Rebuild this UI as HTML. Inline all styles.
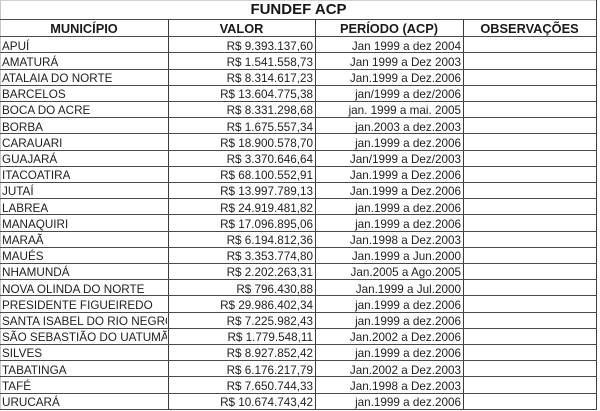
<!DOCTYPE html>
<html>
<head>
<meta charset="utf-8">
<style>
html,body{margin:0;padding:0;background:#fff;}
body{width:600px;height:411px;position:relative;overflow:hidden;font-family:"Liberation Sans",Arial,sans-serif;}
.h{position:absolute;left:0;width:597px;height:1px;background:#4a4a4a;}
.v{position:absolute;width:1px;background:#3a3a3a;}
.t{position:absolute;white-space:nowrap;line-height:16px;font-size:11.7px;color:#1e1e1e;}
.c1{left:2px;width:165px;overflow:hidden;}
.c2{left:170px;width:143px;text-align:right;}
.c3{left:317px;width:144px;text-align:right;}
.hd{position:absolute;top:20.9px;line-height:16px;font-size:12.8px;font-weight:bold;color:#1a1a1a;text-align:center;white-space:nowrap;}
</style>
</head>
<body>
<!-- outer faint borders -->
<div style="position:absolute;left:0;top:0;width:597px;height:1px;background:#d0d0d0;"></div>
<div style="position:absolute;left:0;top:0;width:1px;height:410px;background:#c8c8c8;"></div>
<div class="v" style="left:596px;top:0;height:410px;"></div>

<div style="position:absolute;left:0;top:0.8px;width:597px;text-align:center;font-size:15px;line-height:18px;font-weight:bold;color:#151515;">FUNDEF ACP</div>

<div class="h" style="top:18.5px;"></div>
<div class="hd" style="left:0;width:168px;">MUNICÍPIO</div>
<div class="hd" style="left:168px;width:147px;">VALOR</div>
<div class="hd" style="left:315px;width:148px;">PERÍODO (ACP)</div>
<div class="hd" style="left:463px;width:133px;">OBSERVAÇÕES</div>

<!-- vertical column lines -->
<div class="v" style="left:168px;top:19px;height:391px;"></div>
<div class="v" style="left:315px;top:19px;height:391px;"></div>
<div class="v" style="left:463px;top:19px;height:391px;"></div>

<!-- horizontal row lines: y = 36.7 + 16.2k -->
<div class="h" style="top:36.2px"></div>
<div class="h" style="top:52.4px"></div>
<div class="h" style="top:68.6px"></div>
<div class="h" style="top:84.8px"></div>
<div class="h" style="top:101px"></div>
<div class="h" style="top:117.2px"></div>
<div class="h" style="top:133.4px"></div>
<div class="h" style="top:149.6px"></div>
<div class="h" style="top:165.8px"></div>
<div class="h" style="top:182px"></div>
<div class="h" style="top:198.2px"></div>
<div class="h" style="top:214.4px"></div>
<div class="h" style="top:230.6px"></div>
<div class="h" style="top:246.8px"></div>
<div class="h" style="top:263px"></div>
<div class="h" style="top:279.2px"></div>
<div class="h" style="top:295.4px"></div>
<div class="h" style="top:311.6px"></div>
<div class="h" style="top:327.8px"></div>
<div class="h" style="top:344px"></div>
<div class="h" style="top:360.2px"></div>
<div class="h" style="top:376.4px"></div>
<div class="h" style="top:392.6px"></div>
<div class="h" style="top:408.8px"></div>

<!-- rows: top = y_k + 1.8 -->
<div class="t c1" style="top:38.5px">APUÍ</div><div class="t c2" style="top:38.5px">R$ 9.393.137,60</div><div class="t c3" style="top:38.5px">Jan 1999 a dez 2004</div>
<div class="t c1" style="top:54.7px">AMATURÁ</div><div class="t c2" style="top:54.7px">R$ 1.541.558,73</div><div class="t c3" style="top:54.7px">Jan 1999 a Dez 2003</div>
<div class="t c1" style="top:70.9px">ATALAIA DO NORTE</div><div class="t c2" style="top:70.9px">R$ 8.314.617,23</div><div class="t c3" style="top:70.9px">Jan.1999 a Dez.2006</div>
<div class="t c1" style="top:87.1px">BARCELOS</div><div class="t c2" style="top:87.1px">R$ 13.604.775,38</div><div class="t c3" style="top:87.1px">jan/1999 a dez/2006</div>
<div class="t c1" style="top:103.3px">BOCA DO ACRE</div><div class="t c2" style="top:103.3px">R$ 8.331.298,68</div><div class="t c3" style="top:103.3px">jan. 1999 a mai. 2005</div>
<div class="t c1" style="top:119.5px">BORBA</div><div class="t c2" style="top:119.5px">R$ 1.675.557,34</div><div class="t c3" style="top:119.5px">jan.2003 a dez.2003</div>
<div class="t c1" style="top:135.7px">CARAUARI</div><div class="t c2" style="top:135.7px">R$ 18.900.578,70</div><div class="t c3" style="top:135.7px">jan.1999 a dez.2006</div>
<div class="t c1" style="top:151.9px">GUAJARÁ</div><div class="t c2" style="top:151.9px">R$ 3.370.646,64</div><div class="t c3" style="top:151.9px">Jan/1999 a Dez/2003</div>
<div class="t c1" style="top:168.1px">ITACOATIRA</div><div class="t c2" style="top:168.1px">R$ 68.100.552,91</div><div class="t c3" style="top:168.1px">Jan.1999 a Dez.2006</div>
<div class="t c1" style="top:184.3px">JUTAÍ</div><div class="t c2" style="top:184.3px">R$ 13.997.789,13</div><div class="t c3" style="top:184.3px">Jan.1999 a Dez.2006</div>
<div class="t c1" style="top:200.5px">LABREA</div><div class="t c2" style="top:200.5px">R$ 24.919.481,82</div><div class="t c3" style="top:200.5px">jan.1999 a dez.2006</div>
<div class="t c1" style="top:216.7px">MANAQUIRI</div><div class="t c2" style="top:216.7px">R$ 17.096.895,06</div><div class="t c3" style="top:216.7px">jan.1999 a dez.2006</div>
<div class="t c1" style="top:232.9px">MARAÃ</div><div class="t c2" style="top:232.9px">R$ 6.194.812,36</div><div class="t c3" style="top:232.9px">Jan.1998 a Dez.2003</div>
<div class="t c1" style="top:249.1px">MAUÉS</div><div class="t c2" style="top:249.1px">R$ 3.353.774,80</div><div class="t c3" style="top:249.1px">Jan.1999 a Jun.2000</div>
<div class="t c1" style="top:265.3px">NHAMUNDÁ</div><div class="t c2" style="top:265.3px">R$ 2.202.263,31</div><div class="t c3" style="top:265.3px">Jan.2005 a Ago.2005</div>
<div class="t c1" style="top:281.5px">NOVA OLINDA DO NORTE</div><div class="t c2" style="top:281.5px">R$ 796.430,88</div><div class="t c3" style="top:281.5px">Jan.1999 a Jul.2000</div>
<div class="t c1" style="top:297.7px">PRESIDENTE FIGUEIREDO</div><div class="t c2" style="top:297.7px">R$ 29.986.402,34</div><div class="t c3" style="top:297.7px">jan.1999 a dez.2006</div>
<div class="t c1" style="top:313.9px">SANTA ISABEL DO RIO NEGRO</div><div class="t c2" style="top:313.9px">R$ 7.225.982,43</div><div class="t c3" style="top:313.9px">jan.1999 a dez.2006</div>
<div class="t c1" style="top:330.1px">SÃO SEBASTIÃO DO UATUMÃ</div><div class="t c2" style="top:330.1px">R$ 1.779.548,11</div><div class="t c3" style="top:330.1px">Jan.2002 a Dez.2006</div>
<div class="t c1" style="top:346.3px">SILVES</div><div class="t c2" style="top:346.3px">R$ 8.927.852,42</div><div class="t c3" style="top:346.3px">jan.1999 a dez.2006</div>
<div class="t c1" style="top:362.5px">TABATINGA</div><div class="t c2" style="top:362.5px">R$ 6.176.217,79</div><div class="t c3" style="top:362.5px">Jan.2002 a Dez.2003</div>
<div class="t c1" style="top:378.7px">TAFÉ</div><div class="t c2" style="top:378.7px">R$ 7.650.744,33</div><div class="t c3" style="top:378.7px">Jan.1998 a Dez.2003</div>
<div class="t c1" style="top:394.9px">URUCARÁ</div><div class="t c2" style="top:394.9px">R$ 10.674.743,42</div><div class="t c3" style="top:394.9px">jan.1999 a dez.2006</div>
</body>
</html>
